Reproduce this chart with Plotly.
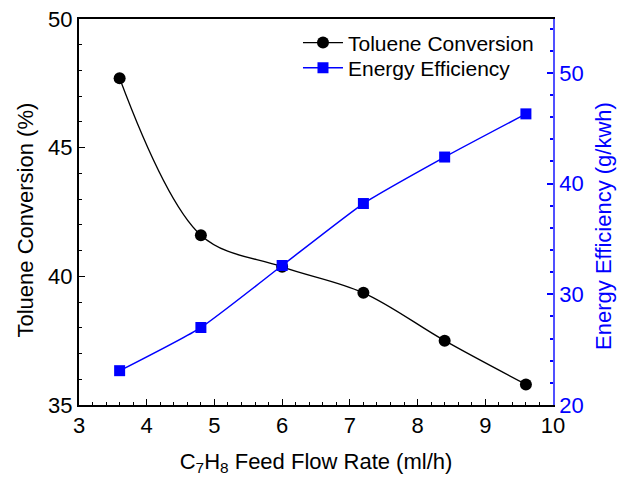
import plotly.graph_objects as go

flow_rate = [3.6, 4.8, 6.0, 7.2, 8.4, 9.6]
toluene_conversion = [47.7, 41.6, 40.37, 39.36, 37.5, 35.8]
energy_efficiency = [23.1, 27.0, 32.6, 38.2, 42.4, 46.3]

BLUE = "#0000ff"
FONT = "Liberation Sans, Arial, sans-serif"

fig = go.Figure()
fig.add_trace(go.Scatter(
    x=flow_rate, y=toluene_conversion, name="Toluene Conversion",
    mode="lines+markers", legend="legend",
    line=dict(color="black", width=1.3, shape="spline", smoothing=1.0),
    marker=dict(symbol="circle", size=12, color="black"),
))
fig.add_trace(go.Scatter(
    x=flow_rate, y=energy_efficiency, name="Energy Efficiency", yaxis="y2",
    mode="lines+markers", legend="legend2",
    line=dict(color=BLUE, width=1.5, shape="spline", smoothing=0.5),
    marker=dict(symbol="square", size=11, color=BLUE),
))

leg_common = dict(xanchor="left", yanchor="middle", bgcolor="rgba(0,0,0,0)",
                  font=dict(size=21), itemwidth=40)

fig.update_layout(
    width=618, height=484,
    margin=dict(l=79, r=65, t=19, b=79),
    paper_bgcolor="white", plot_bgcolor="white",
    font=dict(family=FONT, size=21, color="black"),
    showlegend=True,
    legend=dict(x=0.462, y=0.938, **leg_common),
    legend2=dict(x=0.462, y=0.873, **leg_common),
    xaxis=dict(
        range=[3, 10], tickmode="linear", tick0=3, dtick=1,
        ticks="inside", ticklen=6, tickwidth=1.2, tickcolor="black",
        minor=dict(dtick=0.2, ticks="inside", ticklen=3, tickcolor="black", tickwidth=1),
        showline=True, linecolor="black", linewidth=2, mirror=True,
        showgrid=False, zeroline=False, automargin=False,
        tickfont=dict(size=22),
        title=dict(text="C<sub>7</sub>H<sub>8</sub> Feed Flow Rate (ml/h)",
                   font=dict(size=22), standoff=16),
    ),
    yaxis=dict(
        range=[35, 50], tickmode="linear", tick0=35, dtick=5,
        ticks="inside", ticklen=6, tickwidth=1.2, tickcolor="black",
        minor=dict(dtick=1, ticks="inside", ticklen=3, tickcolor="black", tickwidth=1),
        showline=True, linecolor="black", linewidth=2, mirror=False,
        showgrid=False, zeroline=False, automargin=False,
        tickfont=dict(size=22),
    ),
    yaxis2=dict(
        range=[20, 54.87], overlaying="y", side="right",
        tickmode="linear", tick0=20, dtick=10,
        ticks="inside", ticklen=6, tickwidth=1.5, tickcolor=BLUE,
        minor=dict(dtick=2, ticks="inside", ticklen=3, tickcolor=BLUE, tickwidth=1.5),
        showline=True, linecolor="#5050ff", linewidth=1.5,
        showgrid=False, zeroline=False, automargin=False,
        tickfont=dict(size=22, color=BLUE),
    ),
    annotations=[
        dict(text="Toluene Conversion (%)", xref="paper", yref="paper",
             x=-0.1139, y=0.478, textangle=-90, showarrow=False,
             xanchor="center", yanchor="middle", font=dict(size=22, color="black")),
        dict(text="Energy Efficiency (g/kwh)", xref="paper", yref="paper",
             x=1.1076, y=0.464, textangle=-90, showarrow=False,
             xanchor="center", yanchor="middle", font=dict(size=22, color=BLUE)),
    ],
)

fig.write_html("out.html")
